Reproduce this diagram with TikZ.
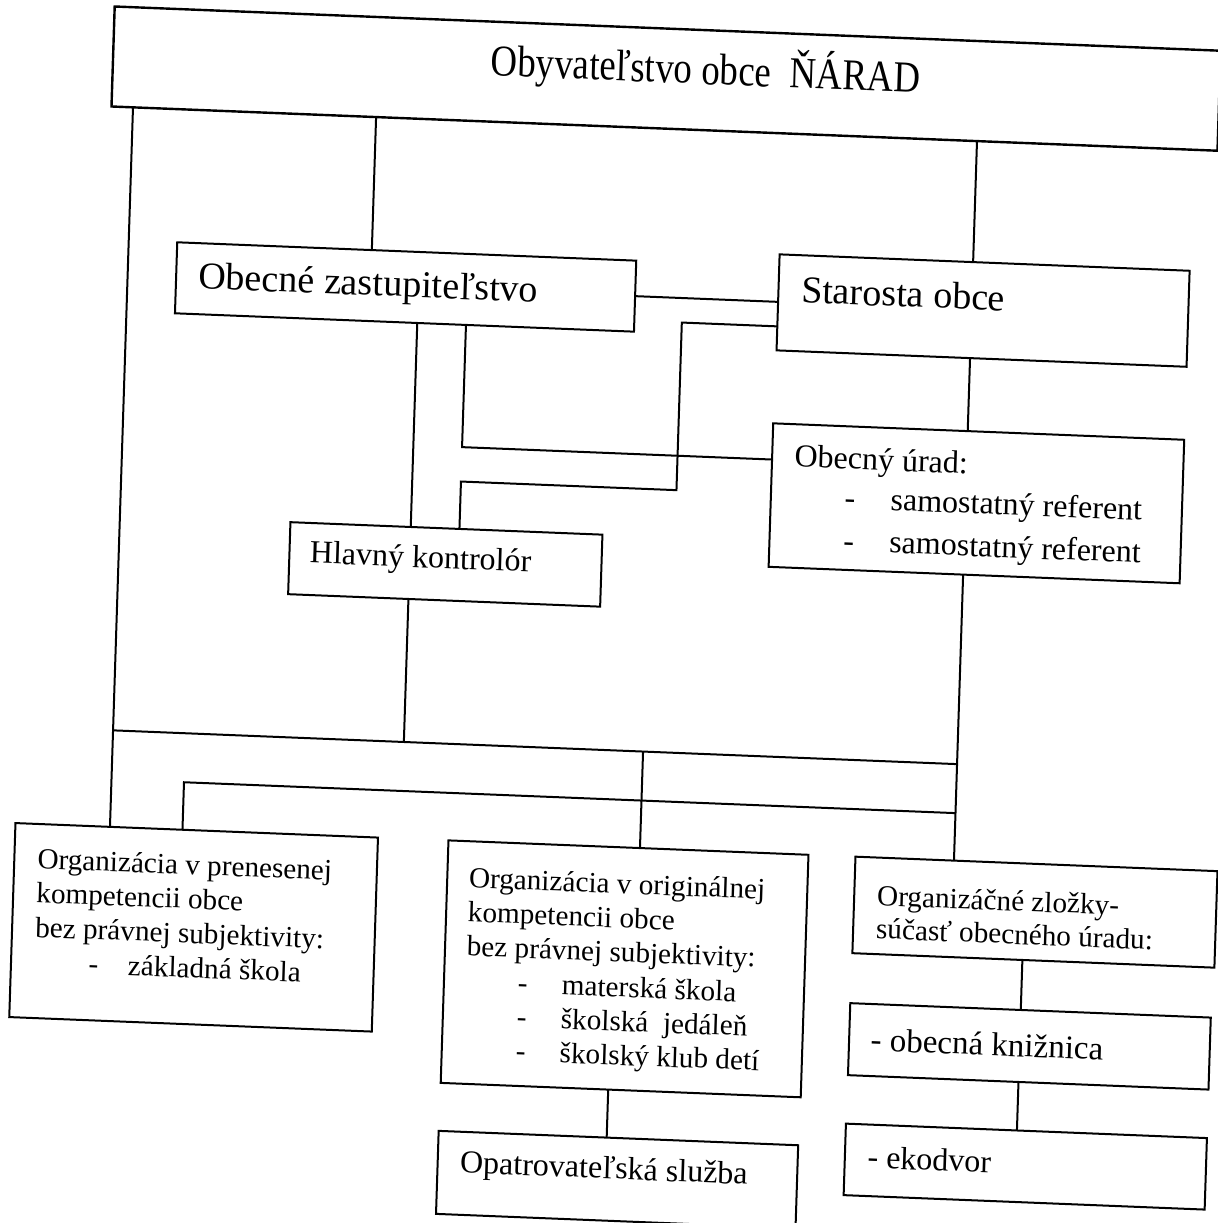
\documentclass[tikz,border=0pt]{standalone}
\usepackage{fontspec}
\setmainfont{Liberation Serif}
\usepackage{graphicx}
\begin{document}
\begin{tikzpicture}[x=0.5pt,y=-0.5pt,
  box/.style={draw, line width=1pt, rectangle, inner sep=0pt, outer sep=0pt},
  conn/.style={line width=1pt},
  txt/.style={inner sep=0pt, outer sep=0pt, anchor=base west},
  big/.style={txt, font=\fontsize{19}{23}\selectfont},
  mid/.style={txt, font=\fontsize{16}{19}\selectfont},
  sml/.style={txt, font=\fontsize{14.6}{17}\selectfont}]
\fill[white] (0,0) rectangle (1218,1223);
\useasboundingbox (0,0) rectangle (1218,1223);
\begin{scope}[transform canvas={cm={1,-0.04,0.032,1,(9.78pt,12.18pt)}}]
% boxes
\node[box, line width=1.2pt, minimum width=553pt, minimum height=50pt] (top) at (649,77) {};
\node[box, minimum width=229.5pt, minimum height=35.5pt] (obz) at (395.5,295.5) {};
\node[box, minimum width=205pt, minimum height=48pt] (sta) at (973,296) {};
\node[box, minimum width=156pt, minimum height=36pt] (hk) at (444,571) {};
\node[box, minimum width=205.5pt, minimum height=71.75pt] (ur) at (972.5,488.75) {};
\node[box, minimum width=181.25pt, minimum height=97pt] (lb) at (204.25,943.5) {};
\node[box, minimum width=180pt, minimum height=121.25pt] (mb) at (636,967.75) {};
\node[box, minimum width=179.75pt, minimum height=41.5pt] (op) at (635.25,1178.5) {};
\node[box, minimum width=181pt, minimum height=48.25pt] (oz) at (1044,894.75) {};
\node[box, minimum width=180.25pt, minimum height=36pt] (kn) at (1042.75,1029) {};
\node[box, minimum width=180.5pt, minimum height=35.75pt] (ek) at (1042.5,1149.25) {};
% texts
\node[txt] (ttl) at (474,81) {\resizebox{214.5pt}{\height}{\fontsize{22}{26}\selectfont Obyvateľstvo obce\ \ ŇÁRAD}};
\node[big] (obzt) at (188.7,305.4) {Obecné zastupiteľstvo};
\node[big] (stat) at (791,295.3) {Starosta obce};
\node[mid] (hkt) at (308.5,575) {Hlavný kontrolór};
\node[mid] (ur1) at (789.4,459.6) {Obecný úrad:};
\node[mid] (ur2) at (789.4,499) {\makebox[48.7pt][l]{\hspace{25.7pt}-}samostatný referent};
\node[mid] (ur3) at (789.4,541.8) {\makebox[48.7pt][l]{\hspace{25.7pt}-}samostatný referent};
\node[sml] (lb1) at (46.2,890.8) {Organizácia v prenesenej};
\node[sml] (lb2) at (46.2,925) {kompetencii obce};
\node[sml] (lb3) at (46.2,959.5) {bez právnej subjektivity:};
\node[sml] (lb4) at (46.2,993.8) {\makebox[46.9pt][l]{\hspace{27.2pt}-}základná škola};
\node[sml] (mb1) at (477.8,892.6) {Organizácia v originálnej};
\node[sml] (mb2) at (477.8,927) {kompetencii obce};
\node[sml] (mb3) at (477.8,961) {bez právnej subjektivity:};
\node[sml] (mb4) at (477.8,996) {\makebox[48.1pt][l]{\hspace{26.1pt}-}materská škola};
\node[sml] (mb5) at (477.8,1030) {\makebox[48.1pt][l]{\hspace{26.1pt}-}školská\ \ jedáleň};
\node[sml] (mb6) at (477.8,1064) {\makebox[48.1pt][l]{\hspace{26.1pt}-}školský klub detí};
\node[mid] (opt) at (478,1178) {Opatrovateľská služba};
\node[sml] (oz1) at (886,894.3) {Organizáčné zložky-};
\node[sml] (oz2) at (886,927.4) {súčasť obecného úradu:};
\node[mid, font=\fontsize{16.5}{19}\selectfont] (knt) at (884,1039.6) {- obecná knižnica};
\node[mid] (ekt) at (884.8,1156.7) {- ekodvor};
% helper coordinates
\coordinate (vL) at (117.5,0);
\coordinate (vA) at (360.6,0);
\coordinate (vB) at (961.5,0);
\coordinate (vK) at (408.3,0);
\coordinate (vH) at (457,0);
\coordinate (vS) at (672.5,0);
\coordinate (vB2) at (190,0);
\coordinate (vM) at (647.5,0);
\coordinate (vO) at (623.5,0);
\coordinate (vZ) at (1033,0);
\coordinate (hS) at (0,320);
\coordinate (hU) at (0,453.2);
\coordinate (hJ) at (0,487.6);
\coordinate (bus1) at (0,750);
\coordinate (bus2) at (0,799);
% connectors
\draw[conn] (top.south -| vL) -- (lb.north -| vL);
\draw[conn] (top.south -| vA) -- (obz.north -| vA);
\draw[conn] (top.south -| vB) -- (sta.north -| vB);
\draw[conn] (obz.east) -- (obz.east -| sta.west);
\draw[conn] (sta.west |- hS) -| (hJ -| vS) -| (hk.north -| vH);
\draw[conn] (obz.south -| vK) -- (hk.north -| vK);
\draw[conn] (obz.south -| vH) |- (ur.west |- hU);
\draw[conn] (hk.south -| vK) -- (bus1 -| vK);
\draw[conn] (bus1 -| vL) -- (bus1 -| vB);
\draw[conn] (lb.north -| vB2) |- (bus2 -| vB);
\draw[conn] (bus1 -| vM) -- (mb.north -| vM);
\draw[conn] (sta.south -| vB) -- (ur.north -| vB);
\draw[conn] (ur.south -| vB) -- (oz.north -| vB);
\draw[conn] (mb.south -| vO) -- (op.north -| vO);
\draw[conn] (oz.south -| vZ) -- (kn.north -| vZ);
\draw[conn] (kn.south -| vZ) -- (ek.north -| vZ);
\end{scope}
\end{tikzpicture}
\end{document}
